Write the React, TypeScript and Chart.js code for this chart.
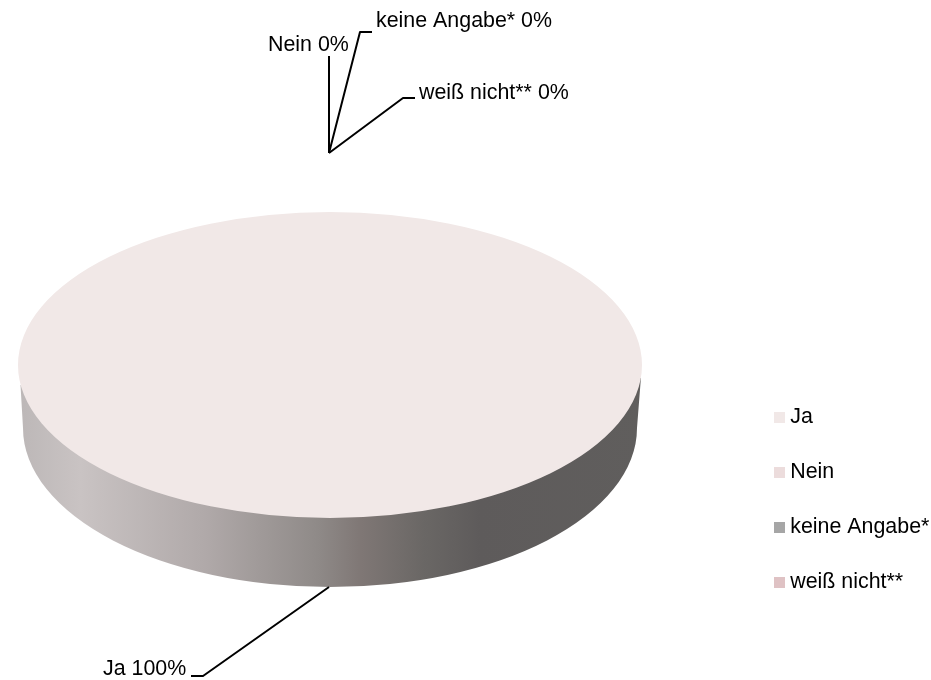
import React, { useEffect, useRef } from "react";
import { Chart, registerables } from "chart.js";

Chart.register(...registerables);

const categories = ["Ja", "Nein", "keine Angabe*", "weiß nicht**"];
const shares = [100, 0, 0, 0];
const sliceColors = ["#f1e8e7", "#ecdcdc", "#a6a6a6", "#dfc2c4"];

const FONT = '21.4px "Liberation Sans", Arial, sans-serif';

// Callouts, in page pixels: text start and baseline, then the leader line.
const callouts = [
  { index: 0, x: 103, y: 675, line: [[329, 587], [203, 676], [191, 676]] },
  { index: 1, x: 268, y: 51, line: [[329, 153], [329, 56]] },
  { index: 2, x: 376, y: 27, line: [[329, 153], [360, 32], [372, 32]] },
  { index: 3, x: 419, y: 99, line: [[329, 153], [403, 98], [415, 98]] },
];

const TILT = 153 / 312;
const TOP_CY = 365;
const wallStops: [number, string][] = [
  [0, "#bcb7b7"],
  [0.1, "#c9c3c3"],
  [0.3, "#b0a9a9"],
  [0.48, "#8f8a88"],
  [0.55, "#7f7775"],
  [0.65, "#6a6765"],
  [0.74, "#5e5b5b"],
  [1, "#605e5d"],
];

const pie3d = {
  id: "pie3d",
  afterLayout(chart: any) {
    const l = chart.legend;
    const w = l.right - l.left;
    const h = l.bottom - l.top;
    const pad = chart.options.plugins.legend.labels.padding;
    l.left = 779.495 - pad;
    l.right = l.left + w;
    l.top = 406.8 - pad;
    l.bottom = l.top + h;
  },
  beforeDatasetsDraw(chart: any) {
    const { ctx, chartArea: a } = chart;
    const cx = (a.left + a.right) / 2;
    const c = ctx as CanvasRenderingContext2D;
    c.save();
    const g = c.createLinearGradient(a.left, 0, a.right, 0);
    wallStops.forEach(([s, col]) => g.addColorStop(s, col));
    c.fillStyle = g;
    c.beginPath();
    c.moveTo(20.5, 385);
    c.lineTo(23, 428);
    c.ellipse(cx, 428, 307, 159, 0, Math.PI, 0, true);
    c.lineTo(640.9, 378);
    c.closePath();
    c.fill();
    c.restore();
    c.save();
    c.translate(0, TOP_CY);
    c.scale(1, TILT);
    c.translate(0, -(a.top + a.bottom) / 2);
  },
  afterDatasetsDraw(chart: any) {
    chart.ctx.restore();
  },
  afterDraw(chart: any) {
    const ctx = chart.ctx as CanvasRenderingContext2D;
    ctx.save();
    ctx.strokeStyle = "#000";
    ctx.lineWidth = 2;
    ctx.lineJoin = "round";
    ctx.fillStyle = "#000";
    ctx.font = FONT;
    ctx.textBaseline = "alphabetic";
    callouts.forEach((c) => {
      ctx.beginPath();
      c.line.forEach(([x, y], i) => (i ? ctx.lineTo(x, y) : ctx.moveTo(x, y)));
      ctx.stroke();
      ctx.fillText(`${categories[c.index]} ${shares[c.index]}%`, c.x, c.y);
    });
    ctx.restore();
  },
};

export default function App() {
  const ref = useRef<HTMLCanvasElement>(null);
  useEffect(() => {
    const chart = new Chart(ref.current!, {
      type: "pie",
      data: {
        labels: categories,
        datasets: [{ data: shares, backgroundColor: sliceColors, borderWidth: 0, clip: false } as any],
      },
      options: {
        animation: false,
        responsive: false,
        devicePixelRatio: 1,
        layout: { padding: { left: 18, right: 289, top: 28, bottom: 28 } },
        plugins: {
          tooltip: { enabled: false },
          legend: {
            position: "chartArea",
            align: "start",
            labels: {
              usePointStyle: true,
              pointStyle: "rect",
              boxWidth: 0.01,
              boxHeight: 11,
              padding: 33.6,
              color: "#000",
              font: { family: '"Liberation Sans", Arial, sans-serif', size: 21.4, lineHeight: 1 },
              generateLabels: () =>
                categories.map((text, i) => ({
                  text,
                  fillStyle: sliceColors[i],
                  strokeStyle: "rgba(0,0,0,0)",
                  lineWidth: 0,
                  pointStyle: "rect",
                  hidden: false,
                  index: i,
                })),
            },
          },
        },
      } as any,
      plugins: [pie3d],
    });
    return () => chart.destroy();
  }, []);
  return (
    <canvas
      ref={ref}
      width={931}
      height={680}
      style={{ position: "fixed", left: 0, top: 0, display: "block", background: "#fff" }}
    />
  );
}
